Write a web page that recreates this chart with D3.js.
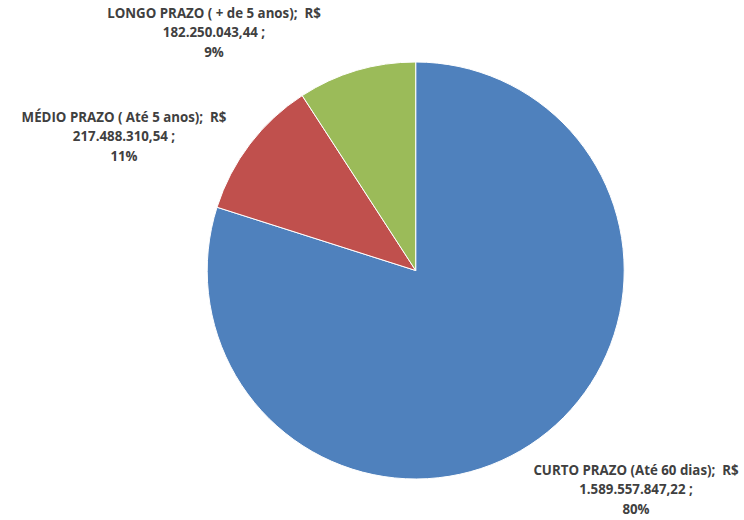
<!DOCTYPE html>
<html>
<head>
<meta charset="utf-8">
<script src="https://cdn.jsdelivr.net/npm/d3@7"></script>
<style>
  body { margin: 0; background: #fff; }
  svg text { font-family: "Open Sans", "Noto Sans", sans-serif; font-weight: bold; fill: #404040; }
</style>
</head>
<body>
<div id="chart"></div>
<script>
var categories = ["CURTO PRAZO (Até 60 dias)", "MÉDIO PRAZO ( Até 5 anos)", "LONGO PRAZO ( + de 5 anos)"];
var valueLabels = ["1.589.557.847,22", "217.488.310,54", "182.250.043,44"];
var values = [1589557847.22, 217488310.54, 182250043.44];
var colors = ["#4F81BD", "#C0504D", "#9BBB59"];

var width = 744,
    height = 520;

var cx = 415.7, cy = 270.5, radius = 208.5;

// where each label block is centred (first line), layout only
var labelPos = [
  {x: 636, y: 470},
  {x: 124, y: 117},
  {x: 214, y: 13}
];
var lineHeight = 19.8;

var data = categories.map((c, i) => ({name: c, value: values[i], label: valueLabels[i], color: colors[i]}));

var svg = d3.select("#chart").append("svg")
    .attr("width", width)
    .attr("height", height);

var pie = d3.pie()
    .sort(null)
    .value(d => d.value);

var arc = d3.arc()
    .innerRadius(0)
    .outerRadius(radius);

var arcs = pie(data);
var total = d3.sum(values);

var g = svg.append("g")
    .attr("transform", "translate(" + cx + "," + cy + ")");

g.selectAll("path")
    .data(arcs)
    .enter()
    .append("path")
    .attr("d", arc)
    .style("fill", d => d.data.color)
    .style("stroke", "white")
    .style("stroke-width", 1);

var labels = svg.selectAll("text.lbl")
    .data(arcs)
    .enter()
    .append("text")
    .attr("class", "lbl")
    .attr("text-anchor", "middle")
    .attr("font-size", "13.3px")
    .attr("x", (d, i) => labelPos[i].x)
    .attr("y", (d, i) => labelPos[i].y);

labels.each(function(d, i) {
  var t = d3.select(this);
  var pct = Math.round(d.data.value / total * 100) + "%";
  var lines = [d.data.name + ";\u00a0\u00a0R$", d.data.label + " ;", pct];
  lines.forEach((l, k) => {
    t.append("tspan")
      .attr("x", labelPos[i].x)
      .attr("dy", k == 0 ? "0.35em" : lineHeight)
      .text(l);
  });
});
</script>
</body>
</html>
